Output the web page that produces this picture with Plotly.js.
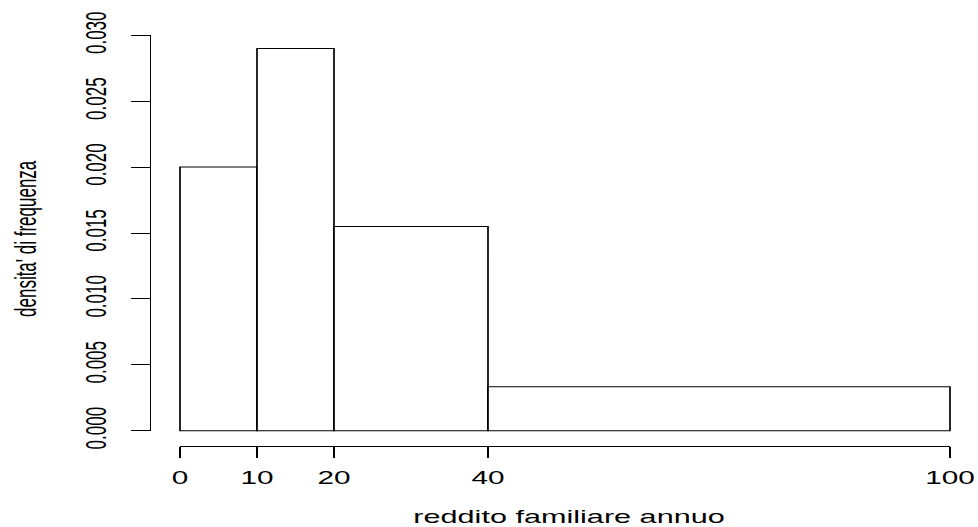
<!DOCTYPE html>
<html>
<head>
<meta charset="utf-8">
<script src="https://cdn.plot.ly/plotly-3.0.1.min.js"></script>
<style>
  html, body { margin: 0; padding: 0; background: #ffffff; overflow: hidden; }
  #wrap { width: 978px; height: 527px; overflow: hidden; }
  #plot { width: 575px; height: 527px; transform: scaleX(1.70087); transform-origin: 0 0; }
</style>
</head>
<body>
<div id="wrap"><div id="plot"></div></div>
<script>
// ---- data ----
const breaks = [0, 10, 20, 40, 100];
const density = [0.020, 0.029, 0.0155, 0.00333];
const xTickVals = [0, 10, 20, 40, 100];
const xTickText = ['0', '10', '20', '40', '100'];
const yTickVals = [0, 0.005, 0.010, 0.015, 0.020, 0.025, 0.030];
const yTickText = ['0.000', '0.005', '0.010', '0.015', '0.020', '0.025', '0.030'];
const xTitle = 'reddito familiare annuo';
const yTitle = "densita' di frequenza";

// ---- layout geometry (unstretched px) ----
const W = 575, H = 527;
const M = { l: 88, r: 5, t: 30, b: 81 };
const pw = W - M.l - M.r, ph = H - M.t - M.b;
const xAxisLeftPx = 105.83, xAxisRightPx = 558.54;   // where 0 and 100 sit
const yAxisTopPx = 35.3, yAxisZeroPx = 430.7;        // where 0.030 and 0 sit
const d0 = (xAxisLeftPx - M.l) / pw, d1 = (xAxisRightPx - M.l) / pw;
const e0 = (M.t + ph - yAxisZeroPx) / ph, e1 = 1 - (yAxisTopPx - M.t) / ph;

const xMin = xTickVals[0], xMax = xTickVals[xTickVals.length - 1];
const yMin = yTickVals[0], yMax = yTickVals[yTickVals.length - 1];
const xu = (xMax - xMin) / (d1 - d0);
const yu = (yMax - yMin) / (e1 - e0);

const lefts = breaks.slice(0, -1);
const widths = lefts.map((b, i) => breaks[i + 1] - b);

const font = 'Liberation Sans, Arial, Helvetica, sans-serif';

const traces = [
  {
    type: 'bar', x: lefts, y: density, width: widths, offset: 0,
    marker: { color: '#ffffff', line: { color: '#000000', width: 1 } },
    xaxis: 'x', yaxis: 'y', hoverinfo: 'skip', showlegend: false
  },
  {
    type: 'scatter', mode: 'markers', x: breaks, y: breaks.map(() => yMin),
    marker: { opacity: 0 }, xaxis: 'x2', yaxis: 'y2', hoverinfo: 'skip', showlegend: false
  }
];

const layout = {
  width: W, height: H,
  margin: M,
  paper_bgcolor: '#ffffff', plot_bgcolor: 'rgba(0,0,0,0)',
  showlegend: false,
  font: { family: font, color: '#000000', size: 17 },
  xaxis: {
    domain: [0, 1], range: [xMin - d0 * xu, xMax + (1 - d1) * xu],
    visible: false, fixedrange: true
  },
  yaxis: {
    domain: [0, 1], range: [yMin - e0 * yu, yMax + (1 - e1) * yu],
    visible: false, fixedrange: true
  },
  xaxis2: {
    domain: [d0, d1], range: [xMin, xMax], anchor: 'free', position: 0,
    showline: true, linecolor: '#000000', linewidth: 1,
    showgrid: false, zeroline: false,
    ticks: 'outside', ticklen: 10.5, tickwidth: 1, tickcolor: '#000000',
    tickmode: 'array', tickvals: xTickVals, ticktext: xTickText,
    tickfont: { family: font, size: 17.5, color: '#000000' },
    ticklabelstandoff: 6, fixedrange: true
  },
  yaxis2: {
    domain: [e0, e1], range: [yMin, yMax], anchor: 'free', position: 0,
    showline: true, linecolor: '#000000', linewidth: 1,
    showgrid: false, zeroline: false,
    ticks: 'outside', ticklen: 11, tickwidth: 1, tickcolor: '#000000',
    tickmode: 'array', tickvals: yTickVals, ticktext: yTickText,
    tickangle: -90,
    tickfont: { family: font, size: 17, color: '#000000' },
    ticklabelstandoff: 8, fixedrange: true
  },
  annotations: [
    {
      text: xTitle, xref: 'paper', yref: 'paper',
      x: (334.9 - M.l) / pw, y: (M.t + ph - 517) / ph,
      xanchor: 'center', yanchor: 'middle', showarrow: false,
      font: { family: font, size: 18, color: '#000000' }
    },
    {
      text: yTitle, xref: 'paper', yref: 'paper',
      x: (15 - M.l) / pw, y: (M.t + ph - 239) / ph,
      xanchor: 'center', yanchor: 'middle', textangle: -90, showarrow: false,
      font: { family: font, size: 17, color: '#000000' }
    }
  ]
};

Plotly.newPlot('plot', traces, layout, { staticPlot: true, displayModeBar: false });
</script>
</body>
</html>
